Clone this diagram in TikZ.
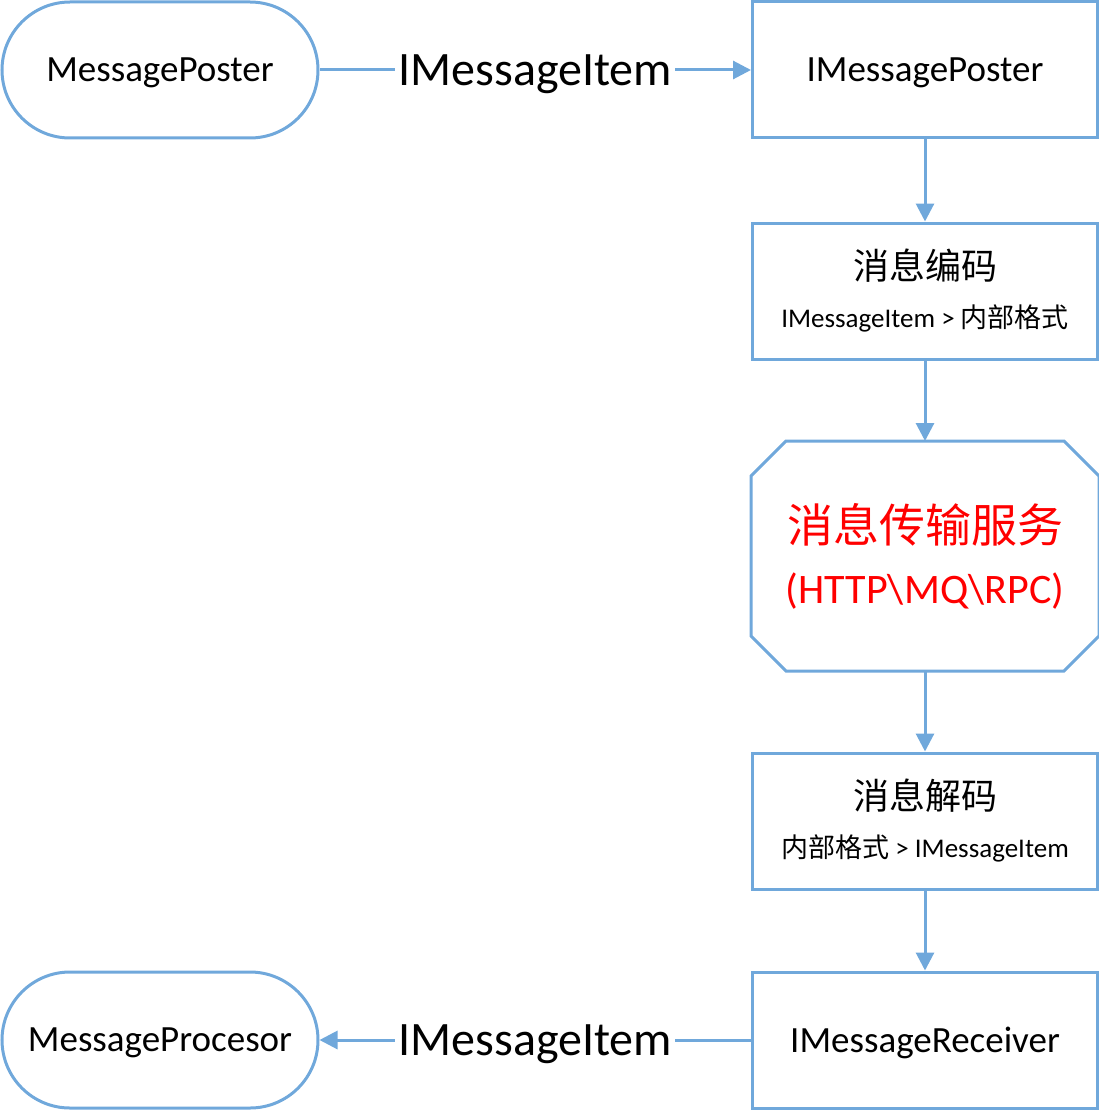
\documentclass[tikz,border=0pt]{standalone}
\usepackage{fontspec}
\setmainfont{Carlito}
\newfontfamily\cjk{Noto Sans CJK SC}
\definecolor{msgblue}{RGB}{112,168,219}
\definecolor{msgred}{RGB}{255,0,0}
\usetikzlibrary{arrows.meta}
\tikzset{
  endpoint/.style={draw=msgblue, line width=3pt, rounded corners=68pt,
    minimum width=316pt, minimum height=136pt, text depth=0pt,
    font=\fontsize{37}{40}\selectfont},
  stage/.style={draw=msgblue, line width=3pt, minimum width=345pt,
    minimum height=136pt, align=center, font=\fontsize{27}{48}\selectfont},
  flow/.style={draw=msgblue, line width=3pt, -{Triangle[length=18pt,width=18pt]}},
  itemlabel/.style={fill=white, inner sep=3pt, text depth=0pt,
    font=\fontsize{48}{52}\selectfont}
}

\begin{document}
\begin{tikzpicture}[x=1pt, y=-1pt]

  \useasboundingbox (0,0) rectangle (1099,1110);

  \node [endpoint] (poster) at (160,70) {MessagePoster};
  \node [stage, text depth=0pt, font=\fontsize{37}{40}\selectfont] (iposter) at (925,70) {IMessagePoster};
  \node [stage] (encode) at (925,291)
    {{\cjk\fontsize{36}{40}\selectfont 消息编码}\\IMessageItem > {\cjk 内部格式}};
  \node [stage, draw=none, minimum height=227pt, text=msgred,
    font=\fontsize{42}{61}\selectfont] (transport) at (925,556)
    {{\cjk\fontsize{46}{50}\selectfont 消息传输服务}\\(HTTP\textbackslash MQ\textbackslash RPC)};
  \node [stage] (decode) at (925,821)
    {{\cjk\fontsize{36}{40}\selectfont 消息解码}\\{\cjk 内部格式} > IMessageItem};
  \node [stage, text depth=0pt, font=\fontsize{37}{40}\selectfont] (receiver) at (925,1040) {IMessageReceiver};
  \node [endpoint] (processor) at (160,1040) {MessageProcesor};

  % octagon round the transport
  \draw [draw=msgblue, line width=3pt]
    ([xshift=35pt]transport.north west) -- ([xshift=-35pt]transport.north east)
    -- ([yshift=-35pt]transport.north east) -- ([yshift=35pt]transport.south east)
    -- ([xshift=-35pt]transport.south east) -- ([xshift=35pt]transport.south west)
    -- ([yshift=35pt]transport.south west) -- ([yshift=-35pt]transport.north west)
    -- cycle;

  % poster side
  \draw [flow] (poster) -- node [itemlabel] (postitem) {IMessageItem} (iposter);

  % down the chain
  \foreach \a/\b in {iposter/encode, encode/transport, transport/decode, decode/receiver}
    \draw [flow] (\a) -- (\b);

  % receiver side
  \draw [flow] (receiver) -- node [itemlabel] (recvitem) {IMessageItem} (processor);

\end{tikzpicture}
\end{document}
